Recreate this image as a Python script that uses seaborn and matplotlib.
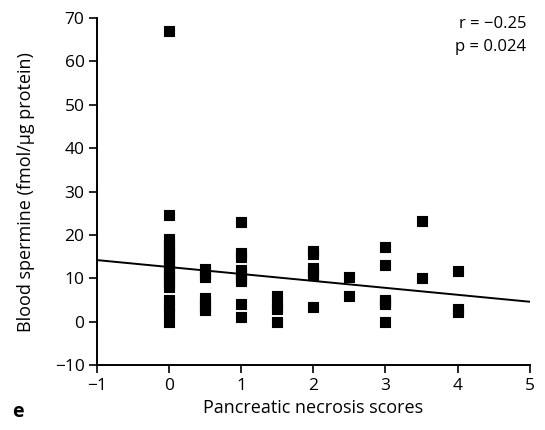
import pandas as pd
import matplotlib
matplotlib.use("Agg")
import matplotlib.pyplot as plt
import seaborn as sns

# Necrosis score groups and blood spermine values
score_0 = [67, 24.5, 19, 18, 17, 16, 15, 14, 13, 12, 11, 10, 9, 8, 5, 3.5, 2, 0]
score_05 = [12.2, 11, 10.3, 5.5, 4.5, 3.5, 2.8]
score_1 = [23, 15.8, 15, 12, 11, 10, 9.3, 4, 1]
score_15 = [6, 4, 3, 0]
score_2 = [16.2, 15.6, 12.4, 11.5, 10.8, 3.5]
score_25 = [10.4, 6]
score_3 = [17.3, 13, 5, 4.5, 4, 0]
score_35 = [23.3, 10]
score_4 = [11.8, 3, 2.3]

groups = {0: score_0, 0.5: score_05, 1: score_1, 1.5: score_15, 2: score_2,
          2.5: score_25, 3: score_3, 3.5: score_35, 4: score_4}

# regression line end points
fit_x = [-1, 5]
fit_y = [14.2, 4.6]

rows = [(k, v) for k, vals in groups.items() for v in vals]
df = pd.DataFrame(rows, columns=["score", "spermine"])
fit = pd.DataFrame({"score": fit_x, "spermine": fit_y})

sns.set_style("ticks", {"text.color": "black", "axes.labelcolor": "black",
                        "xtick.color": "black", "ytick.color": "black"})
plt.rcParams['font.family'] = ['Open Sans', 'DejaVu Sans']

fig = plt.figure(figsize=(5.45, 4.3), dpi=100)
ax = fig.add_axes([0.178, 0.151, 0.794, 0.807])

sns.lineplot(data=fit, x="score", y="spermine", color="black", linewidth=1.4, ax=ax)
sns.scatterplot(data=df, x="score", y="spermine", marker="s", s=52, color="black",
                edgecolor="black", linewidth=0.8, ax=ax, zorder=3)

ax.set_xlim(-1, 5)
ax.set_ylim(-10, 70)
ax.set_xticks(range(-1, 6))
ax.set_yticks(range(-10, 71, 10))
ax.set_xticklabels(["\u22121", "0", "1", "2", "3", "4", "5"])
ax.set_yticklabels(["\u221210"] + [str(v) for v in range(0, 71, 10)])
ax.tick_params(direction="out", length=6, width=1.2, pad=3, labelsize=12.5, colors="black")
for s in ["left", "bottom"]:
    ax.spines[s].set_linewidth(1.4)
    ax.spines[s].set_color("black")
sns.despine(ax=ax)

ax.set_xlabel("Pancreatic necrosis scores", fontsize=13, labelpad=4, color="black")
ax.set_ylabel("Blood spermine (fmol/\u03bcg protein)", fontsize=13, labelpad=14, color="black")

ax.text(0.992, 1.005, "r = \u22120.25", transform=ax.transAxes, ha="right", va="top",
        fontsize=12, color="black")
ax.text(0.992, 0.94, "p = 0.024", transform=ax.transAxes, ha="right", va="top",
        fontsize=12, color="black")
fig.text(0.022, 0.03, "e", fontsize=14, fontweight="bold", color="black")

fig.savefig("out.png", dpi=100)
